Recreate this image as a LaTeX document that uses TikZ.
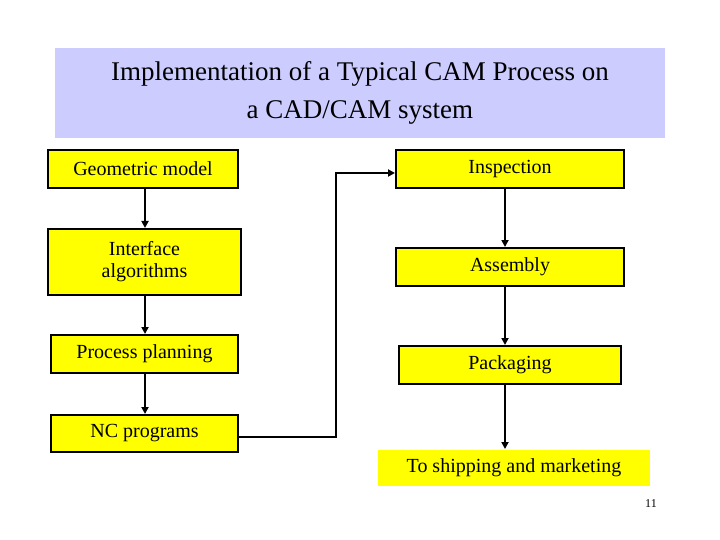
\documentclass[tikz,border=0pt]{standalone}
\usepackage{fontspec}
\setmainfont{Liberation Serif}
\usetikzlibrary{arrows.meta}
\definecolor{titlebg}{RGB}{204,204,255}
\definecolor{boxy}{RGB}{255,255,0}
\begin{document}
\begin{tikzpicture}[x=1pt,y=-1pt,
  bx/.style={draw=black,line width=2pt,fill=boxy,inner sep=0pt,align=center,font=\fontsize{20}{22}\selectfont},
  ar/.style={line width=2pt,-{Triangle[length=7pt,width=7pt]}}]
\useasboundingbox (0,0) rectangle (720,540);
\node[fill=titlebg,minimum width=610pt,minimum height=90pt,align=center,inner sep=0pt,font=\fontsize{27}{38}\selectfont] (t) at (360,93) {Implementation of a Typical CAM Process on\\a CAD/CAM system};
\node[bx,minimum width=190pt,minimum height=38pt] (g) at (143,169) {Geometric model};
\node[bx,minimum width=193pt,minimum height=66pt] (i) at (144.5,262) {Interface\\algorithms};
\node[bx,minimum width=187pt,minimum height=38pt] (p) at (144.5,354) {Process planning};
\node[bx,minimum width=187pt,minimum height=37pt] (n) at (144.5,433.5) {NC programs};
\node[bx,minimum width=228pt,minimum height=38pt] (ins) at (510,169) {Inspection};
\node[bx,minimum width=228pt,minimum height=38pt] (as) at (510,267) {Assembly};
\node[bx,minimum width=222pt,minimum height=38pt] (pk) at (510,365) {Packaging};
\node[bx,draw=none,minimum width=272pt,minimum height=36pt] (sh) at (514,468) {To shipping and marketing};
\node[font=\fontsize{12}{14}\selectfont] (pg) at (651,504) {11};
\draw[ar] (g.south -| 145,0) -- (i.north -| 145,0);
\draw[ar] (i.south -| 145,0) -- (p.north -| 145,0);
\draw[ar] (p.south -| 145,0) -- (n.north -| 145,0);
\draw[ar] (n.east |- 0,437) -- (336,437) -- (336,173) -- (ins.west |- 0,173);
\draw[ar] (ins.south -| 505,0) -- (as.north -| 505,0);
\draw[ar] (as.south -| 505,0) -- (pk.north -| 505,0);
\draw[ar] (pk.south -| 505,0) -- (sh.north -| 505,0);
\end{tikzpicture}
\end{document}
